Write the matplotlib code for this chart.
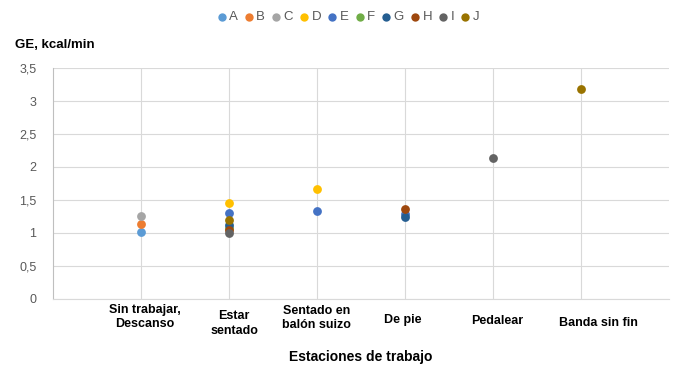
import matplotlib.pyplot as plt

plt.rcParams['font.family'] = ['Liberation Sans', 'DejaVu Sans']

# categories (x positions 1..6)
categories = ["Sin trabajar,\nDescanso", "Estar\nsentado", "Sentado en\nbalón suizo",
              "De pie", "Pedalear", "Banda sin fin"]

# series: name -> (category indices, GE values)
series_names = ["A", "B", "C", "D", "E", "F", "G", "H", "I", "J"]
series_x = {
    "A": [1],
    "B": [1],
    "C": [1],
    "D": [2, 3],
    "E": [2, 3, 4],
    "F": [2],
    "G": [2, 4],
    "H": [2, 4],
    "I": [2, 5],
    "J": [2, 6],
}
series_y = {
    "A": [1.01],
    "B": [1.14],
    "C": [1.25],
    "D": [1.46, 1.66],
    "E": [1.31, 1.33, 1.28],
    "F": [1.08],
    "G": [1.12, 1.24],
    "H": [1.05, 1.37],
    "I": [1.00, 2.14],
    "J": [1.19, 3.18],
}
colors = ["#5B9BD5", "#ED7D31", "#A5A5A5", "#FFC000", "#4472C4",
          "#70AD47", "#255E91", "#9E480E", "#636363", "#997300"]

fig = plt.figure(figsize=(6.98, 3.76), dpi=100)
ax = fig.add_axes([0.076, 0.205, 0.882, 0.614])

for name, c in zip(series_names, colors):
    ax.scatter(series_x[name], series_y[name], s=40, color=c, label=name,
               zorder=3, linewidths=0)

ax.set_xlim(0, 7)
ax.set_ylim(0, 3.5)
ax.set_yticks([0, 0.5, 1, 1.5, 2, 2.5, 3, 3.5])
ax.set_yticklabels(["0", "0,5", "1", "1,5", "2", "2,5", "3", "3,5"])
ax.set_xticks(range(1, 7))
ax.set_xticklabels([])
ax.tick_params(axis='both', length=0, labelsize=9, labelcolor="#595959")
ax.tick_params(axis='y', pad=12)
ax.grid(True, color="#D9D9D9", linewidth=0.8)
ax.set_axisbelow(True)
for s in ["top", "right"]:
    ax.spines[s].set_visible(False)
ax.spines["left"].set_color("#BFBFBF")
ax.spines["bottom"].set_color("#D9D9D9")

# category labels (placed a bit irregularly, as in the original)
label_dx = [0.04, 0.06, 0.0, -0.02, 0.05, 0.2]
label_dy = [-0.02, -0.05, -0.025, -0.065, -0.07, -0.08]
for i, lab in enumerate(categories):
    ax.text(i + 1 + label_dx[i], label_dy[i], lab, transform=ax.get_xaxis_transform(),
            ha='center', va='top', fontsize=9, fontweight='bold', color="#000000",
            linespacing=1.25)

ax.text(0.5, -0.22, "Estaciones de trabajo", transform=ax.transAxes,
        ha='center', va='top', fontsize=10, fontweight='bold')
fig.text(15 / 698, 1 - 45 / 376, "GE, kcal/min", ha='left', va='center',
         fontsize=9.5, fontweight='bold')

fig.legend(loc='center', bbox_to_anchor=(0.497, 1 - 17 / 376), ncol=10, frameon=False,
           fontsize=9.5, handletextpad=0.0, columnspacing=0.3, markerscale=0.95,
           handlelength=1.1, labelcolor="#595959")

fig.savefig("out.png", dpi=100)
